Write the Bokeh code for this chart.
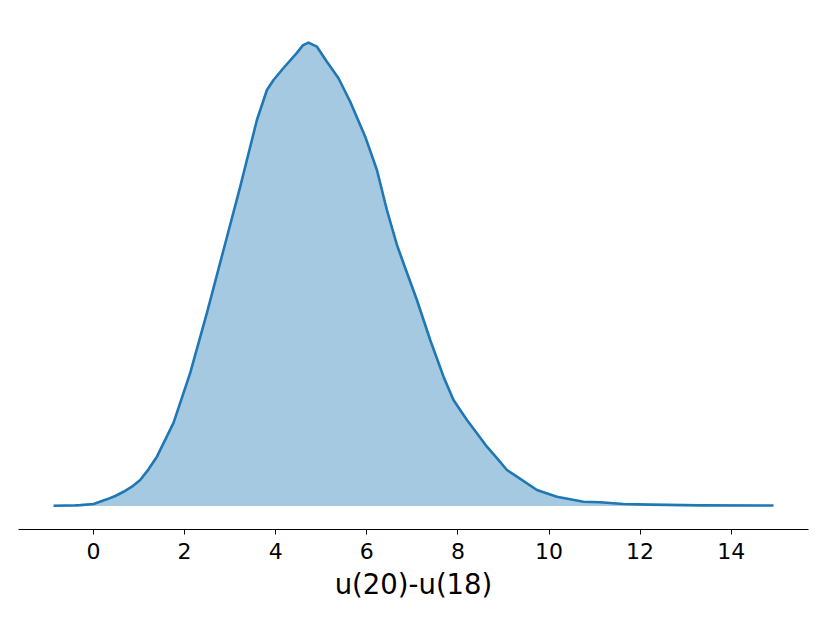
from bokeh.plotting import figure
from bokeh.models import Range1d, FixedTicker
from bokeh.embed import file_html
from bokeh.resources import INLINE

# KDE of u(20)-u(18)
x_values = [-0.878, -0.40, -0.29, 0.0, 0.294, 0.477, 0.659, 0.843, 1.025, 1.207,
            1.392, 1.756, 2.123, 2.490, 2.854, 3.221, 3.587, 3.807, 3.952, 4.171,
            4.465, 4.600, 4.720, 4.800, 4.905, 5.124, 5.379, 5.636, 5.965, 6.222,
            6.441, 6.661, 6.843, 7.100, 7.392, 7.684, 7.903, 8.198, 8.417, 8.637,
            8.857, 9.076, 9.296, 9.735, 10.174, 10.757, 11.124, 11.629, 12.222, 13.320,
            14.929]
density = [0.0001, 0.0003, 0.0004, 0.0009, 0.0030, 0.0045, 0.0064, 0.0087, 0.0117, 0.0165,
           0.0222, 0.0374, 0.0599, 0.0869, 0.1152, 0.1437, 0.1737, 0.1872, 0.1917, 0.1971,
           0.2039, 0.2074, 0.2085, 0.2077, 0.2067, 0.1999, 0.1925, 0.1819, 0.1662, 0.1512,
           0.1332, 0.1175, 0.1071, 0.0927, 0.0747, 0.0582, 0.0477, 0.0387, 0.0327, 0.0267,
           0.0215, 0.0162, 0.0132, 0.0072, 0.0042, 0.0019, 0.0017, 0.0009, 0.0006, 0.0003,
           0.0002]
x_ticks = [0, 2, 4, 6, 8, 10, 12, 14]
x_label = "u(20)-u(18)"

k = 0.00045
p = figure(frame_width=790, frame_height=509,
           min_border_left=18, min_border_right=14, min_border_top=20, min_border_bottom=0,
           x_range=Range1d(-1.647, 15.697), y_range=Range1d(-23.5 * k, 485.5 * k),
           output_backend="svg", toolbar_location=None)

p.varea(x=x_values, y1=[0] * len(x_values), y2=density,
        fill_color="#1f77b4", fill_alpha=0.4)
p.line(x_values, density, line_color="#1f77b4", line_width=2.6, line_join="round")

p.yaxis.visible = False
p.grid.visible = False
p.outline_line_color = None
p.background_fill_color = "white"
p.border_fill_color = "white"

ax = p.xaxis[0]
ax.ticker = FixedTicker(ticks=x_ticks)
ax.axis_line_color = "black"
ax.axis_line_width = 1.2
ax.major_tick_line_color = "black"
ax.major_tick_out = 5
ax.major_tick_in = 0
ax.minor_tick_line_color = None
ax.major_label_text_font = "DejaVu Sans"
ax.major_label_text_font_size = "22px"
ax.major_label_text_color = "black"
ax.major_label_standoff = 8
ax.axis_label = x_label
ax.axis_label_text_font = "DejaVu Sans"
ax.axis_label_text_font_style = "normal"
ax.axis_label_text_font_size = "27.5px"
ax.axis_label_text_color = "black"
ax.axis_label_standoff = 6

open("out.html", "w").write(file_html(p, INLINE))
